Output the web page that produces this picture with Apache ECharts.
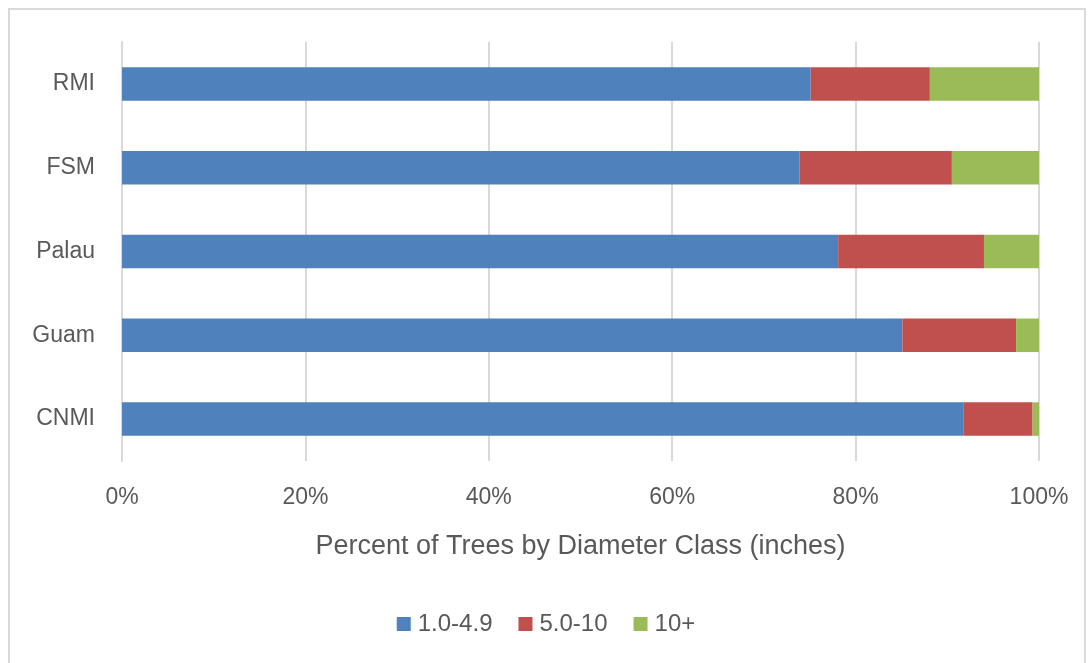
<!DOCTYPE html>
<html><head><meta charset="utf-8">
<script src="https://cdn.jsdelivr.net/npm/echarts@6/dist/echarts.min.js"></script>
<style>html,body{margin:0;padding:0;background:#fff}#c{width:1092px;height:663px}</style>
</head><body><div id="c"></div>
<script>
const categories = ['CNMI', 'Guam', 'Palau', 'FSM', 'RMI'];
const seriesNames = ['1.0-4.9', '5.0-10', '10+'];
const small = [91.8, 85.1, 78.1, 73.9, 75.1];
const medium = [7.5, 12.4, 15.9, 16.6, 13.0];
const large = [0.7, 2.5, 6.0, 9.5, 11.9];
const xTicks = [0, 20, 40, 60, 80, 100];
const axisTitle = 'Percent of Trees by Diameter Class (inches)';
const colors = ['#4f81bd', '#c0504d', '#9bbb59'];
const font = 'Liberation Sans, Arial, sans-serif';
const chart = echarts.init(document.getElementById('c'), null, {renderer: 'canvas'});
const values = [small, medium, large];
chart.setOption({
  animation: false,
  color: colors,
  textStyle: {fontFamily: font},
  graphic: [{type: 'rect', shape: {x: 9, y: 9, width: 1076, height: 680}, style: {fill: 'none', stroke: '#d9d9d9', lineWidth: 2}}],
  grid: {left: 122, right: 53, top: 42, bottom: 202, containLabel: false},
  legend: {
    bottom: 22, left: 'center', itemWidth: 14, itemHeight: 14, itemGap: 26,
    icon: 'rect', textStyle: {fontSize: 24, color: '#595959', fontFamily: font, padding: [0, 0, 0, 2]},
    data: seriesNames
  },
  xAxis: {
    type: 'value', min: 0, max: 100, interval: 20,
    name: axisTitle, nameLocation: 'middle', nameGap: 72,
    nameTextStyle: {fontSize: 27, color: '#595959', fontFamily: font},
    axisLabel: {formatter: v => xTicks.includes(v) ? v + '%' : '', fontSize: 23, color: '#595959', margin: 25},
    axisLine: {show: false}, axisTick: {show: false},
    splitLine: {lineStyle: {color: '#d9d9d9', width: 2}}
  },
  yAxis: {
    type: 'category', data: categories,
    axisLabel: {fontSize: 23, color: '#595959', margin: 27},
    axisLine: {show: true, lineStyle: {color: '#d9d9d9', width: 2}}, axisTick: {show: false}
  },
  series: seriesNames.map((n, i) => ({
    name: n, type: 'bar', stack: 'total', data: values[i], barWidth: '40%',
    itemStyle: {color: colors[i]}
  }))
});
</script></body></html>
